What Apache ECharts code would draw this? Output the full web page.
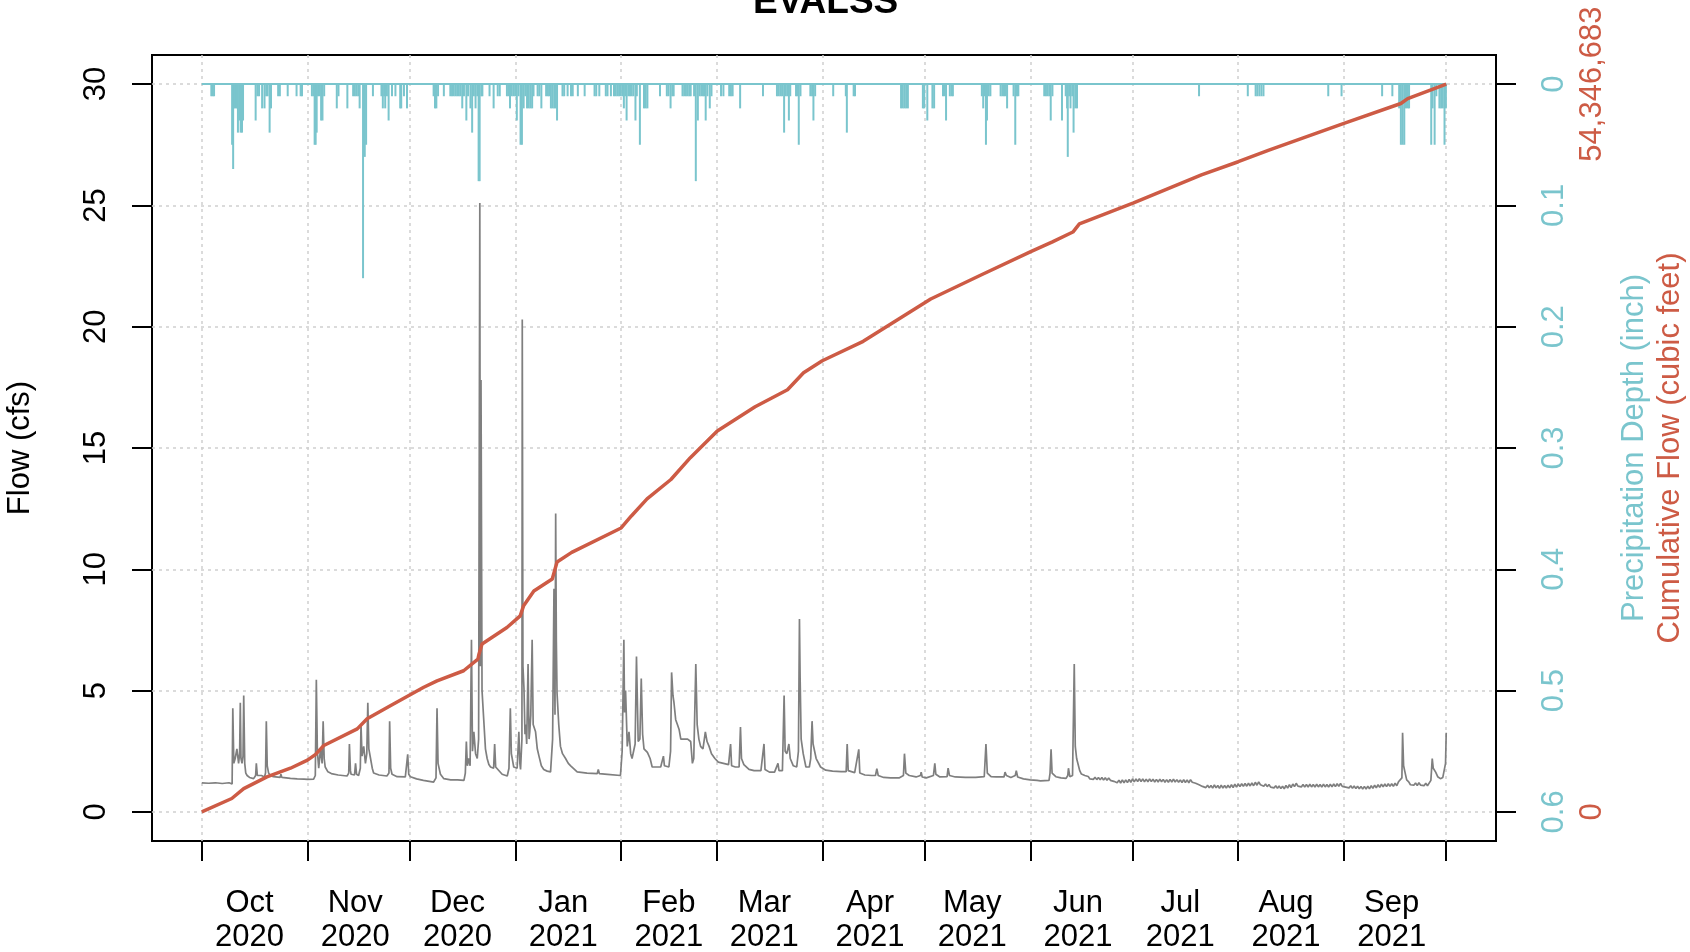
<!DOCTYPE html>
<html>
<head>
<meta charset="utf-8">
<title>EVALSS</title>
<script src="https://cdn.jsdelivr.net/npm/echarts@6.0.0/dist/echarts.min.js"></script>
<style>
  html, body { margin: 0; padding: 0; background: #fff; }
  #chart { width: 1690px; height: 952px; }
</style>
</head>
<body>
<div id="chart"></div>
<script>
// x values are days since 2020-10-01
const monthTickDays = [0, 31, 61, 92, 123, 151, 182, 212, 243, 273, 304, 335, 365]
const monthLabelDays = [14, 45, 75, 106, 137, 165, 196, 226, 257, 287, 318, 349]
const monthLabels = ['Oct\n2020', 'Nov\n2020', 'Dec\n2020', 'Jan\n2021', 'Feb\n2021', 'Mar\n2021',
  'Apr\n2021', 'May\n2021', 'Jun\n2021', 'Jul\n2021', 'Aug\n2021', 'Sep\n2021']

const flowTicks = [0, 5, 10, 15, 20, 25, 30]
const precipTicks = [0, 0.1, 0.2, 0.3, 0.4, 0.5, 0.6]
const cumTicks = [0, 54.346683]   // million cubic feet

// flow (cfs), storms and recessions
const flowEvents = [
  [0,1.2],[2,1.18],[4,1.2],[6,1.17],[8,1.2],[8.9,1.15],
  [9.1,4.27],[9.4,2.0],[9.8,2.2],[10.3,2.6],[10.8,2.0],[11.1,2.4],[11.3,4.5],[11.5,2.2],[11.8,2.0],[12.1,2.3],
  [12.3,4.8],[12.6,2.0],[12.9,1.6],[13.3,1.5],[14.0,1.42],[15.2,1.37],[15.8,1.5],[16.0,2.0],[16.3,1.5],
  [16.8,1.44],[17.5,1.5],[18.4,1.44],[18.7,1.6],[18.93,3.74],[19.2,1.9],[19.6,1.6],[20.1,1.5],[21,1.45],
  [23,1.42],[23.2,1.55],[23.5,1.42],[26,1.38],[28,1.36],[30,1.35],[31.0,1.34],
  [32.8,1.35],[33.3,1.5],[33.6,5.45],[33.9,2.5],[34.3,1.8],[34.8,2.6],[35.3,2.0],[35.6,3.74],[35.9,2.2],
  [36.2,1.85],[37,1.65],[38,1.58],[40,1.52],[42.6,1.48],[43.1,1.6],[43.3,2.8],[43.6,1.7],[43.8,1.55],
  [44.8,1.52],[45.1,2.0],[45.4,1.55],[46.0,1.5],[46.5,1.8],[46.7,3.6],[47.0,2.3],[47.5,2.7],[48.0,2.0],
  [48.4,2.4],[48.7,4.5],[49.0,2.6],[49.5,2.2],[50,1.8],[50.4,1.6],[52,1.52],[54.3,1.48],[54.9,1.6],
  [55.1,3.74],[55.4,1.8],[55.8,1.55],[57.3,1.45],[59.7,1.44],[60.2,1.5],[60.4,2.37],[60.7,1.55],[61.2,1.45],
  [63,1.36],[65,1.3],[68.0,1.23],[68.7,1.4],[69.0,4.27],[69.3,2.0],[70.0,1.55],[71,1.37],[73,1.32],
  [75,1.32],[76.9,1.3],[77.3,1.6],[77.6,2.9],[77.9,1.9],[78.3,2.2],[78.7,1.9],[79.1,7.1],[79.4,2.5],
  [79.8,3.3],[80.3,2.4],[80.8,2.2],[81.2,3.0],[81.55,25.1],[81.7,6.0],[81.9,17.8],[82.2,5.0],[82.7,3.8],
  [83.2,2.6],[83.7,2.2],[84.2,1.95],[84.7,1.85],[85.6,1.8],[85.9,2.8],[86.2,1.85],[86.6,1.85],[88.1,1.55],
  [89.6,1.48],[90.1,1.8],[90.5,4.27],[90.8,2.4],[91.5,1.85],[92.5,1.8],[93.0,3.3],[93.3,2.0],[93.5,1.75],
  [93.9,3.0],[94.0,20.3],[94.2,6.0],[94.5,5.1],[94.8,3.2],[95.0,3.6],[95.3,2.8],[95.7,6.1],[96.0,3.0],
  [96.2,3.3],[96.5,4.0],[96.9,7.1],[97.2,3.6],[97.9,3.3],[98.4,2.6],[98.9,2.3],[99.6,1.9],[100.3,1.75],
  [101.3,1.68],[102.3,1.65],[102.9,3.0],[103.3,9.2],[103.6,4.0],[103.8,12.3],[104.0,7.0],[104.2,4.9],
  [104.7,3.6],[105.2,2.7],[105.8,2.4],[106.7,2.2],[107.5,2.0],[108.2,1.9],[110.1,1.65],[113,1.6],
  [116.0,1.58],[116.3,1.75],[116.6,1.58],[119,1.55],[122.8,1.5],[123.3,2.5],[123.8,7.1],[124.0,4.1],
  [124.3,5.0],[124.8,2.7],[125.3,3.3],[125.8,2.4],[126.2,2.2],[126.6,2.2],[127.1,2.8],[127.5,6.4],
  [128.0,2.9],[128.5,3.0],[128.9,5.5],[129.3,3.2],[129.7,2.6],[130.2,2.6],[130.7,2.45],[131.5,2.2],
  [132.1,1.85],[134.6,1.85],[135.1,1.9],[135.4,2.3],[135.7,1.9],[136.0,1.85],[137.0,1.85],[137.5,2.5],
  [137.8,5.75],[138.2,4.8],[138.5,4.5],[139.0,3.8],[139.5,3.6],[140.0,3.4],[140.5,3.0],[141.5,3.0],
  [142.5,3.0],[143.4,2.9],[143.9,2.0],[144.3,2.2],[144.9,6.1],[145.3,3.6],[145.8,3.0],[146.3,2.7],
  [147.0,2.6],[147.7,3.3],[148.2,2.9],[148.8,2.7],[149.5,2.4],[150.5,2.2],[151.5,2.05],[153,2.0],
  [154.5,1.95],[155.1,2.8],[155.4,1.9],[156.5,1.85],[157.6,1.85],[158.0,3.5],[158.3,2.2],[159.0,1.95],
  [160.5,1.75],[162,1.7],[164.0,1.7],[164.9,2.8],[165.2,1.75],[166.5,1.64],[168.0,1.64],[169.0,2.0],
  [169.3,1.7],[170.3,1.7],[170.8,4.8],[171.1,2.5],[171.6,2.4],[172.2,2.8],[172.6,2.2],[173.5,1.9],
  [174.5,1.85],[175.0,2.5],[175.3,7.95],[175.5,5.5],[175.8,3.0],[176.4,2.4],[177.2,1.85],[178.2,1.85],
  [178.6,2.2],[179.0,3.74],[179.3,2.8],[180.2,2.2],[181.5,1.85],[183,1.72],[185,1.68],[187.5,1.66],
  [189.0,1.66],[189.3,2.8],[189.6,1.7],[191.5,1.62],[192.7,2.58],[193.0,1.6],[194.5,1.52],[196.5,1.5],
  [197.6,1.5],[198.0,1.78],[198.4,1.5],[200,1.42],[202,1.4],[204.5,1.4],[205.8,1.5],[206.1,2.4],
  [206.5,1.6],[207.5,1.5],[209.5,1.44],[210.8,1.5],[211.0,1.64],[211.3,1.44],[212.5,1.4],[214.6,1.5],
  [215.0,2.0],[215.3,1.55],[216.5,1.44],[218.6,1.45],[218.9,1.8],[219.3,1.5],[221,1.44],[224,1.42],
  [227,1.42],[229.5,1.45],[230.0,2.8],[230.4,1.6],[231.5,1.45],[233,1.44],[235.3,1.44],[235.6,1.64],
  [236.0,1.5],[237.3,1.42],[238.6,1.5],[238.9,1.7],[239.3,1.44],[241,1.36],[243,1.32],[245,1.3],
  [246,1.28],[248.5,1.3],[248.8,1.6],[249.1,2.58],[249.4,1.6],[250.5,1.45],[252,1.4],[253.5,1.38],
  [254.0,1.5],[254.2,1.8],[254.6,1.45],[255.4,1.5],[255.9,6.1],[256.2,2.7],[256.6,2.2],[257.5,1.7]
]

// summer baseflow with the daily swing, sampled every half day from day 258
const flowSummerStart = 258
const flowSummerStep = 0.5
const flowSummer = [
  1.56,1.48, 1.50,1.42, 1.46,1.36, 1.44,1.34, 1.43,1.33, 1.42,1.32, 1.42,1.31, 1.41,1.30, 1.40,1.30, 1.38,1.26,
  1.33,1.20, 1.31,1.19, 1.32,1.20, 1.32,1.21, 1.34,1.22, 1.36,1.24, 1.36,1.25, 1.37,1.25, 1.36,1.24, 1.35,1.24,
  1.36,1.25, 1.35,1.23, 1.34,1.23, 1.35,1.24, 1.34,1.22, 1.33,1.22, 1.34,1.23, 1.35,1.23, 1.33,1.22, 1.32,1.21,
  1.33,1.21, 1.32,1.20, 1.33,1.22, 1.30,1.18, 1.24,1.12, 1.16,1.05, 1.12,1.00, 1.10,0.99, 1.09,0.98, 1.11,0.99,
  1.09,0.97, 1.10,0.98, 1.09,0.98, 1.10,0.99, 1.12,1.00, 1.14,1.02, 1.15,1.04, 1.16,1.05, 1.17,1.06, 1.18,1.07,
  1.19,1.08, 1.22,1.10, 1.24,1.12, 1.18,1.06, 1.15,1.04, 1.13,1.02, 1.10,0.99, 1.08,0.97, 1.07,0.96, 1.06,0.95,
  1.09,0.98, 1.12,1.00, 1.15,1.04, 1.18,1.06, 1.14,1.03, 1.13,1.02, 1.13,1.02, 1.14,1.03, 1.13,1.02, 1.14,1.03,
  1.13,1.02, 1.14,1.03, 1.13,1.02, 1.14,1.03, 1.15,1.04, 1.16,1.05, 1.17,1.05, 1.13,1.02, 1.10,0.99, 1.08,0.97,
  1.07,0.96, 1.06,0.95, 1.05,0.94, 1.05,0.94, 1.06,0.95, 1.08,0.97, 1.10,0.99, 1.12,1.01, 1.14,1.03, 1.15,1.04,
  1.16,1.05, 1.16,1.05, 1.18,1.08, 1.24,1.16
]

const flowLate = [
  [352.0,1.4],[352.2,3.26],[352.5,1.9],[352.9,1.64],[353.4,1.32],[354.0,1.24],[354.5,1.12],[355.0,1.2],
  [355.5,1.1],[356.0,1.19],[356.5,1.09],[357.0,1.2],[357.5,1.1],[358.0,1.18],[358.5,1.08],[359.0,1.18],
  [359.5,1.08],[360.0,1.16],[360.5,1.3],[360.9,2.2],[361.2,1.8],[361.9,1.64],[362.5,1.45],[363.3,1.37],
  [364.0,1.42],[364.5,1.5],[364.8,2.0],[365.0,3.26]
]

// precipitation depth (inch)
const precip = [
  [2.8,0.01],[3.2,0.01],[3.6,0.01],
  [8.9,0.05],[9.2,0.07],[9.5,0.02],[9.9,0.02],[10.3,0.02],[10.6,0.04],[11.0,0.03],[11.4,0.04],[11.8,0.04],[12.1,0.03],
  [15.8,0.03],[16.3,0.01],[16.8,0.01],[17.7,0.02],[18.4,0.02],[18.9,0.01],[19.3,0.01],[19.9,0.04],[20.3,0.02],
  [22.4,0.01],[22.9,0.01],[25.2,0.01],[27.8,0.01],[29.0,0.01],[29.4,0.01],
  [32.3,0.01],[32.8,0.01],[33.1,0.05],[33.4,0.05],[33.7,0.04],[34.1,0.01],[34.6,0.01],[35.0,0.03],[35.4,0.03],[35.9,0.01],
  [39.6,0.02],[40.1,0.01],[42.7,0.02],
  [44.4,0.01],[44.9,0.01],[45.4,0.01],[45.9,0.01],[46.3,0.02],[47.3,0.16],[47.8,0.06],[48.2,0.05],[50.2,0.01],
  [52.7,0.01],[53.1,0.02],[53.5,0.01],[53.8,0.02],[54.3,0.01],[54.8,0.03],[55.8,0.01],[56.8,0.01],[58.2,0.02],
  [58.5,0.02],[59.3,0.01],[60.2,0.02],
  [68.0,0.01],[68.4,0.02],[68.8,0.02],[69.3,0.01],[71.0,0.01],
  [72.9,0.01],[73.4,0.01],[73.9,0.01],[74.4,0.01],[74.9,0.01],[75.4,0.01],[75.9,0.01],[76.4,0.02],[76.9,0.01],
  [77.6,0.03],[78.1,0.01],[78.8,0.02],[79.3,0.04],[79.8,0.01],[80.3,0.02],[80.8,0.01],[81.2,0.08],[81.5,0.08],
  [82.0,0.01],[82.3,0.01],[84.4,0.01],[85.6,0.02],[86.8,0.01],[87.4,0.01],
  [89.5,0.01],[90.0,0.01],[90.4,0.02],[90.9,0.01],[91.4,0.01],[91.9,0.01],[92.4,0.03],[92.9,0.01],[93.5,0.05],
  [93.9,0.05],[94.4,0.02],[94.9,0.01],[95.4,0.02],[95.9,0.02],[96.4,0.02],[96.9,0.02],[97.3,0.01],
  [98.5,0.01],[99.0,0.01],[99.6,0.02],[101.0,0.01],[101.5,0.01],[101.9,0.01],[102.4,0.02],[102.9,0.02],
  [103.4,0.02],[103.8,0.02],[104.2,0.03],[105.8,0.01],[106.3,0.01],[107.3,0.01],
  [108.3,0.01],[108.8,0.01],[110.3,0.01],[112.3,0.01],[115.2,0.01],[115.7,0.01],[116.6,0.01],
  [118.5,0.01],[119.0,0.01],[120.0,0.01],
  [120.9,0.01],[121.4,0.01],[121.9,0.01],[122.4,0.01],[122.9,0.01],[123.4,0.01],[123.8,0.02],[124.2,0.01],
  [124.6,0.03],[125.1,0.01],[125.6,0.01],[126.1,0.01],[126.6,0.01],[127.2,0.03],[127.6,0.01],[128.5,0.05],
  [129.7,0.02],[130.2,0.02],[130.7,0.02],
  [134.4,0.01],[136.4,0.01],[136.9,0.01],[137.5,0.02],[138.0,0.01],[138.4,0.01],
  [141.0,0.01],[141.5,0.01],[142.0,0.01],[142.5,0.01],[143.0,0.01],[143.4,0.01],
  [144.4,0.01],[144.9,0.08],[145.5,0.03],[146.0,0.01],[146.5,0.01],[147.0,0.01],[147.4,0.01],[147.8,0.03],
  [148.3,0.01],[149.0,0.02],[149.5,0.01],
  [152.3,0.01],[153.0,0.01],[154.7,0.01],[155.2,0.01],[155.7,0.01],[157.9,0.02],[164.6,0.01],
  [168.7,0.01],[169.2,0.01],[169.7,0.01],[170.2,0.01],[170.8,0.04],[171.3,0.01],[171.8,0.01],[172.2,0.03],[172.6,0.01],
  [174.3,0.01],[174.7,0.01],[175.1,0.05],[175.6,0.01],[178.5,0.01],[179.0,0.01],[179.4,0.03],[179.9,0.01],
  [185.2,0.01],[188.9,0.01],[189.2,0.04],[191.2,0.01],[191.6,0.01],
  [205.1,0.02],[205.6,0.02],[206.1,0.02],[206.6,0.02],[207.1,0.02],
  [211.5,0.02],[211.9,0.02],[212.8,0.03],[214.3,0.02],[214.8,0.02],
  [217.4,0.01],[217.9,0.01],[218.3,0.03],[219.4,0.01],[219.9,0.01],[220.3,0.01],
  [228.8,0.01],[229.2,0.02],[229.7,0.01],[230.0,0.05],[230.3,0.03],[230.8,0.01],[231.3,0.01],
  [234.3,0.01],[234.8,0.01],[235.3,0.01],[235.8,0.01],[236.2,0.02],
  [238.1,0.01],[238.6,0.05],[239.1,0.01],[239.5,0.01],
  [247.1,0.01],[247.6,0.01],[248.1,0.01],[248.6,0.01],[249.0,0.03],[249.5,0.01],
  [252.3,0.03],[253.4,0.01],[253.8,0.02],[254.0,0.06],[254.4,0.01],[254.8,0.02],[255.3,0.01],[255.7,0.04],
  [256.2,0.02],[256.7,0.02],
  [292.5,0.01],[306.8,0.01],[309.1,0.01],[309.6,0.01],[310.2,0.01],[310.8,0.01],[311.4,0.01],
  [330.4,0.01],[334.3,0.01],[346.2,0.01],[349.2,0.01],
  [351.2,0.02],[351.7,0.05],[352.2,0.05],[352.7,0.05],[353.2,0.02],[353.7,0.02],[354.1,0.02],
  [360.6,0.05],[361.0,0.02],[361.6,0.05],[362.1,0.01],[363.0,0.02],[363.5,0.02],[364.0,0.02],[364.5,0.05],[364.9,0.02]
]
const precipSpan = [0, 365]

// cumulative flow (million cubic feet)
const cumFlow = [
  [0,0],[8.8,1.00],[12.3,1.74],[19.1,2.61],[26,3.26],[31,3.86],[33.3,4.28],[35.8,4.96],[45.6,6.20],
  [48.5,6.96],[55.3,7.93],[65.1,9.31],[69,9.78],[76.8,10.54],[81.0,11.41],[81.3,11.78],[82.2,12.54],
  [89.5,13.77],[93.4,14.64],[94.4,15.40],[97.4,16.49],[102.8,17.39],[104.2,18.66],[108.5,19.38],
  [123,21.20],[126,22.10],[130.6,23.37],[137.6,24.82],[143.3,26.45],[151.2,28.44],[162.3,30.25],
  [171.8,31.52],[176.5,32.79],[182,33.69],[194,35.14],[213.8,38.30],[228.7,40.11],[243.3,41.85],
  [249.5,42.57],[255.5,43.30],[257.4,43.91],[273.3,45.47],[293.2,47.57],[304,48.55],[313,49.42],
  [335,51.41],[351.7,52.90],[353.7,53.26],[365,54.35]
]

const TEAL = '#7AC5CD'
const CORAL = '#CD5B45'
const GRAY = '#7F7F7F'
const FONT = '"Liberation Sans", Arial, sans-serif'

const flowData = flowEvents
  .concat(flowSummer.map((v, i) => [flowSummerStart + i * flowSummerStep, v]))
  .concat(flowLate)

const gridLine = { show: true, lineStyle: { color: '#cfcfcf', type: [3, 4], width: 1.5 } }
const blackTick = (vals) => ({ show: true, length: 20, lineStyle: { color: '#000', width: 2 }, customValues: vals })

const chart = echarts.init(document.getElementById('chart'))

const option = {
  animation: false,
  backgroundColor: '#fff',
  textStyle: { fontFamily: FONT },
  title: {
    text: 'EVALSS',
    left: 748,
    top: -21,
    textStyle: { fontSize: 37, fontWeight: 'bold', color: '#000', fontFamily: FONT }
  },
  grid: {
    left: 152, top: 55, width: 1344, height: 786,
    containLabel: false,
    outerBoundsMode: 'none',
    show: true, borderColor: '#000', borderWidth: 2, backgroundColor: 'transparent'
  },
  xAxis: {
    type: 'value',
    min: -14.6,
    max: 379.6,
    axisLine: { show: false, onZero: false },
    axisTick: blackTick(monthTickDays),
    splitLine: gridLine,
    axisLabel: {
      customValues: monthLabelDays,
      margin: 45,
      fontSize: 31,
      lineHeight: 34,
      color: '#000',
      fontFamily: FONT,
      formatter: (v) => {
        const i = monthLabelDays.indexOf(v)
        return i >= 0 ? monthLabels[i] : ''
      }
    }
  },
  yAxis: [
    {
      type: 'value',
      min: -1.2,
      max: 31.2,
      axisLine: { show: false, onZero: false },
      axisTick: blackTick(flowTicks),
      splitLine: gridLine,
      axisLabel: { customValues: flowTicks, rotate: 90, margin: 40, fontSize: 31, color: '#000', fontFamily: FONT },
      name: 'Flow (cfs)',
      nameLocation: 'middle',
      nameRotate: 90,
      nameGap: 116,
      nameTextStyle: { fontSize: 31, color: '#000', fontFamily: FONT }
    },
    {
      type: 'value',
      position: 'right',
      inverse: true,
      min: -0.024,
      max: 0.624,
      axisLine: { show: false, onZero: false },
      axisTick: blackTick(precipTicks),
      splitLine: { show: false },
      axisLabel: { customValues: precipTicks, rotate: 90, margin: 43, fontSize: 31, color: TEAL, fontFamily: FONT },
      name: 'Precipitation Depth (inch)',
      nameLocation: 'middle',
      nameRotate: 90,
      nameGap: 123,
      nameTextStyle: { fontSize: 31, color: TEAL, fontFamily: FONT }
    },
    {
      type: 'value',
      position: 'right',
      min: -2.1739,
      max: 56.5206,
      axisLine: { show: false, onZero: false },
      axisTick: { show: false },
      splitLine: { show: false },
      axisLabel: {
        customValues: cumTicks, rotate: 90, margin: 81, fontSize: 31, color: CORAL, fontFamily: FONT,
        formatter: (v) => Math.round(v * 1e6).toLocaleString('en-US')
      },
      name: 'Cumulative Flow (cubic feet)',
      nameLocation: 'middle',
      nameRotate: 90,
      nameGap: 159,
      nameTextStyle: { fontSize: 31, color: CORAL, fontFamily: FONT }
    }
  ],
  series: [
    {
      name: 'Flow',
      type: 'line',
      xAxisIndex: 0,
      yAxisIndex: 0,
      data: flowData,
      showSymbol: false,
      lineStyle: { color: GRAY, width: 1.7 },
      z: 2
    },
    {
      name: 'Precipitation',
      type: 'bar',
      xAxisIndex: 0,
      yAxisIndex: 1,
      data: precip,
      barWidth: 2,
      itemStyle: { color: TEAL },
      z: 3
    },
    {
      name: 'Precipitation zero',
      type: 'line',
      xAxisIndex: 0,
      yAxisIndex: 1,
      data: precipSpan.map(d => [d, 0]),
      showSymbol: false,
      lineStyle: { color: TEAL, width: 2 },
      z: 3
    },
    {
      name: 'Cumulative Flow',
      type: 'line',
      xAxisIndex: 0,
      yAxisIndex: 2,
      data: cumFlow,
      showSymbol: false,
      lineStyle: { color: CORAL, width: 3.5 },
      z: 4
    }
  ]
}

chart.setOption(option)
</script>
</body>
</html>
